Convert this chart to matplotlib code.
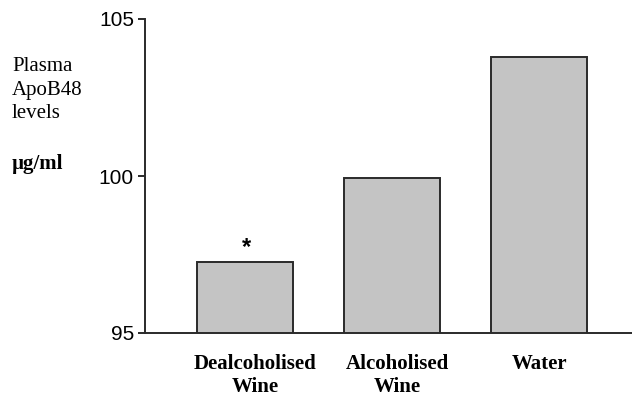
import matplotlib
matplotlib.use("Agg")
import matplotlib.pyplot as plt
import matplotlib.transforms as mtransforms

categories = ["Dealcoholised\nWine", "Alcoholised\nWine", "Water"]
values = [97.26, 99.94, 103.79]
yticks = [95, 100, 105]
annotations = ["*", "", ""]

fig = plt.figure(figsize=(6.32, 3.97), dpi=100)
ax = fig.add_axes([145/632, 1 - 333/397, 1 - 145/632, (333 - 19)/397])

x = list(range(len(categories)))
ax.bar(x, values, width=0.65, bottom=0, color="#c4c4c4", edgecolor="#2a2a2a", linewidth=1.4)
ax.set_ylim(95, 105)
ax.set_xlim(-0.68, 2.63)
ax.set_yticks(yticks)
ax.set_yticklabels([str(t) for t in yticks], family="Liberation Sans", fontsize=15)
ax.set_xticks(x)
ax.set_xticklabels(categories, family="Liberation Serif", fontweight="bold", fontsize=15,
                   linespacing=1.18)
ax.tick_params(axis="x", length=0, pad=15)
ax.tick_params(axis="y", length=5, width=1.4, color="#2a2a2a", pad=3)
for s in ["top", "right"]:
    ax.spines[s].set_visible(False)
for s in ["left", "bottom"]:
    ax.spines[s].set_linewidth(1.4)
    ax.spines[s].set_color("#2a2a2a")

offsets = [10, 5, 0]
for lab, dx in zip(ax.get_xticklabels(), offsets):
    lab.set_transform(lab.get_transform() + mtransforms.ScaledTranslation(dx/100, 0, fig.dpi_scale_trans))

for xi, v, a in zip(x, values, annotations):
    if a:
        ax.annotate(a, (xi, v), xytext=(1, 2), textcoords="offset points",
                    ha="center", va="bottom", fontsize=17, fontweight="bold",
                    family="Liberation Sans")

fig.text(12/632, 1 - 90/397, "Plasma\nApoB48\nlevels", family="Liberation Serif",
         fontsize=15, va="center", ha="left", linespacing=1.35)
fig.text(12/632, 1 - 164/397, "µg/ml", family="Liberation Serif", fontweight="bold",
         fontsize=15, va="center", ha="left")

fig.savefig("out.png", dpi=100)
